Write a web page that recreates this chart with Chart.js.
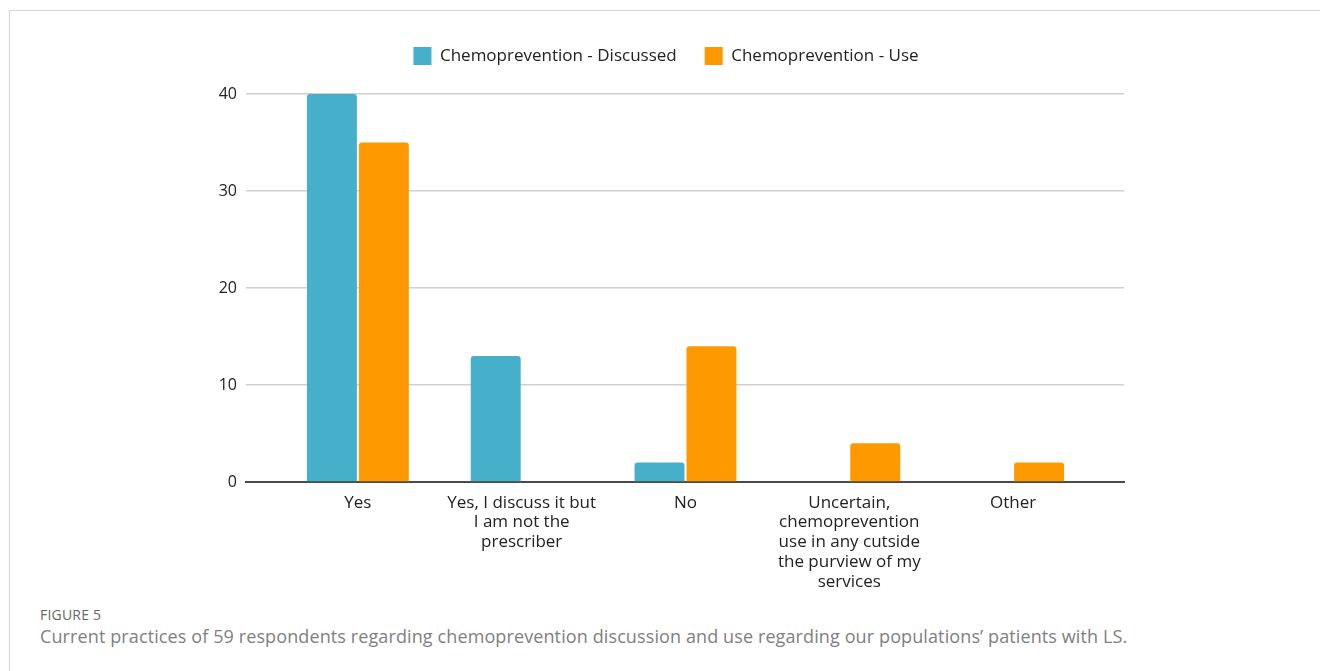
<!DOCTYPE html>
<html><head><meta charset="utf-8">
<script src="https://cdn.jsdelivr.net/npm/chart.js@4"></script>
<style>
html,body{margin:0;padding:0;background:#fff;width:1320px;height:671px;overflow:hidden;}
#frame{position:absolute;left:9px;top:10px;width:1400px;height:800px;border:1px solid #d4d4d4;box-sizing:border-box;}
#wrap{position:absolute;left:208px;top:0;width:1112px;height:600px;}
#cap1{position:absolute;left:40px;top:605px;font:400 14px "Open Sans";color:#666;letter-spacing:0.2px;}
#cap2{position:absolute;left:40px;top:624px;font:400 18px "Open Sans";color:#808080;white-space:nowrap;letter-spacing:0.11px;}
</style></head>
<body>
<div id="frame"></div>
<div id="wrap"><canvas id="c" width="1112" height="600"></canvas></div>
<div id="cap1">FIGURE 5</div>
<div id="cap2">Current practices of 59 respondents regarding chemoprevention discussion and use regarding our populations’ patients with LS.</div>
<script>
const categories = [
  ["Yes"],
  ["Yes, I discuss it but", "I am not the", "prescriber"],
  ["No"],
  ["Uncertain,", "chemoprevention", "use in any cutside", "the purview of my", "services"],
  ["Other"]
];
const discussed = [40, 13, 2, 0, 0];
const use = [35, 0, 14, 4, 2];
const yTicks = [0, 10, 20, 30, 40];
const seriesNames = ["Chemoprevention - Discussed", "Chemoprevention - Use"];

const toXY = arr => arr.map((v, i) => ({x: i, y: v}));
const FONT = "'Open Sans'";

const legendGap = {
  id: 'legendGap',
  beforeInit(chart) {
    const lg = chart.legend;
    if (!lg) return;
    const orig = lg.fit;
    lg.fit = function () { orig.call(this); this.height += 19; };
  }
};

new Chart(document.getElementById('c'), {
  type: 'bar',
  plugins: [legendGap],
  data: {
    datasets: [
      {label: seriesNames[0], data: toXY(discussed), backgroundColor: '#46b0cb', borderRadius: {topLeft: 3, topRight: 3}, borderSkipped: 'start'},
      {label: seriesNames[1], data: toXY(use), backgroundColor: '#ff9900', borderRadius: {topLeft: 3, topRight: 3}, borderSkipped: 'start'}
    ]
  },
  options: {
    responsive: false,
    animation: false,
    devicePixelRatio: 1,
    layout: {padding: {top: 19, right: 196, left: 0, bottom: 0}},
    datasets: {bar: {categoryPercentage: 0.634, barPercentage: 0.962}},
    plugins: {
      tooltip: {enabled: false},
      legend: {
        position: 'top',
        labels: {boxWidth: 18, boxHeight: 18, padding: 28, color: '#222', font: {family: FONT, size: 17}}
      }
    },
    scales: {
      x: {
        type: 'linear',
        offset: false,
        min: -0.683,
        max: 4.677,
        grid: {display: false},
        border: {display: true, color: '#4a4a4a', width: 2},
        afterBuildTicks: s => { s.ticks = categories.map((_, i) => ({value: i})); },
        afterFit: s => { s.height = 118; },
        ticks: {
          autoSkip: false, maxRotation: 0, padding: 3, color: '#222',
          font: {family: FONT, size: 17, lineHeight: 1.16},
          callback: v => categories[v]
        }
      },
      y: {
        min: 0, max: 40,
        grid: {color: '#d0d0d0', lineWidth: 1.5, drawTicks: false},
        border: {display: false},
        afterBuildTicks: s => { s.ticks = yTicks.map(v => ({value: v})); },
        afterFit: s => { s.width = 38; },
        ticks: {padding: 9, color: '#222', font: {family: FONT, size: 16}}
      }
    }
  }
});
</script>
</body></html>
